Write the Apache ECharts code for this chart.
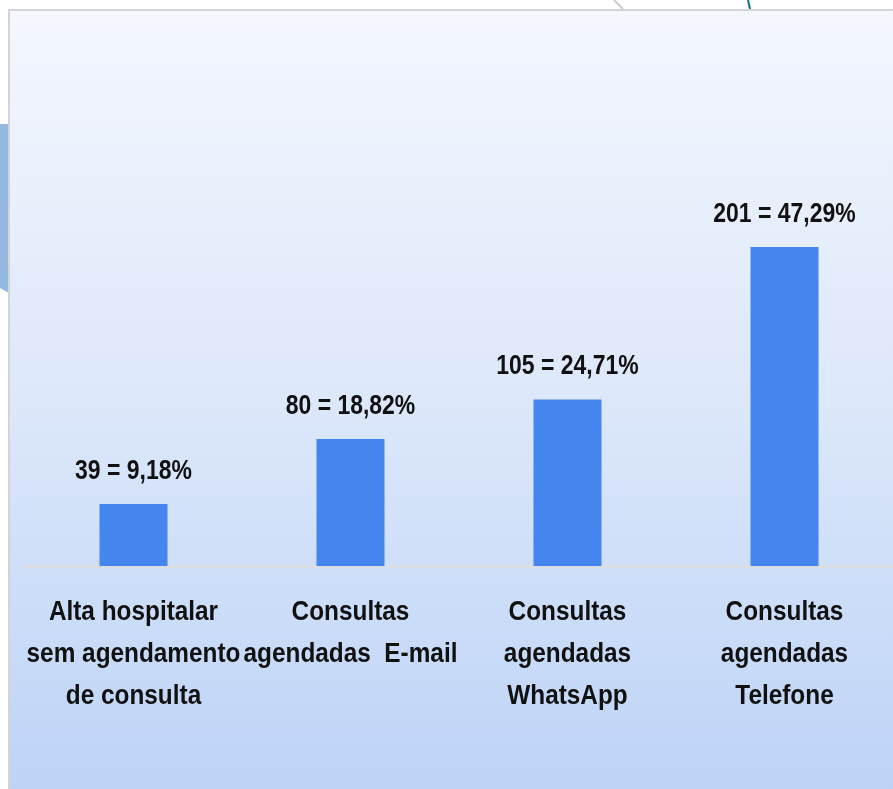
<!DOCTYPE html>
<html>
<head>
<meta charset="utf-8">
<script src="https://cdn.jsdelivr.net/npm/echarts@6/dist/echarts.min.js"></script>
<style>
  html, body { margin: 0; padding: 0; background: #ffffff; }
  #chart { width: 893px; height: 789px; }
</style>
</head>
<body>
<div id="chart"></div>
<script>
// Categories of post-discharge follow-up
const categories = [
  'Alta hospitalar\nsem agendamento\nde consulta',
  'Consultas\nagendadas  E-mail',
  'Consultas\nagendadas\nWhatsApp',
  'Consultas\nagendadas\nTelefone'
];
// Number of patients in each category
const counts = [39, 80, 105, 201];
// Share of the total, as printed (decimal comma)
const percents = ['9,18', '18,82', '24,71', '47,29'];

const FONT = "'Liberation Sans', Arial, sans-serif";

const chart = echarts.init(document.getElementById('chart'), null, { renderer: 'canvas' });

chart.setOption({
  backgroundColor: '#ffffff',
  animation: false,
  graphic: [
    // blue tab peeking out on the left
    {
      type: 'polygon', id: 'tab', z: -20, silent: true,
      shape: { points: [[0, 124], [9, 124], [9, 293], [0, 288]] },
      style: { fill: '#93b9e0' }
    },
    // thin decorative strokes above the panel
    {
      type: 'line', id: 'deco1', z: -20, silent: true,
      shape: { x1: 614, y1: 0, x2: 623, y2: 9 },
      style: { stroke: '#c8ccd2', lineWidth: 2 }
    },
    {
      type: 'line', id: 'deco2', z: -20, silent: true,
      shape: { x1: 748, y1: 0, x2: 750, y2: 9 },
      style: { stroke: '#1f6a86', lineWidth: 2 }
    },
    // gradient panel behind the chart
    {
      type: 'rect', id: 'panel', z: -10, silent: true,
      shape: { x: 9, y: 10, width: 890, height: 790 },
      style: {
        fill: new echarts.graphic.LinearGradient(0, 0, 0, 1, [
          { offset: 0, color: '#f4f7fd' },
          { offset: 0.5, color: '#dce7fa' },
          { offset: 1, color: '#bcd3f6' }
        ]),
        stroke: '#d2d4d8',
        lineWidth: 2
      }
    }
  ],
  grid: {
    left: 25,
    right: -3,
    top: 90,
    bottom: 223,
    containLabel: false
  },
  xAxis: {
    type: 'category',
    data: categories,
    axisLine: { show: true, lineStyle: { color: '#d9dde4', width: 3 } },
    axisTick: { show: false },
    axisLabel: { show: false }
  },
  yAxis: {
    type: 'value',
    min: 0,
    max: 300,
    show: false,
    splitLine: { show: false }
  },
  series: [{
    type: 'bar',
    data: counts,
    barWidth: 68,
    itemStyle: { color: '#4586ee' },
    label: { show: false }
  }]
});

// Narrow bold captions: placed from the axis scales, squeezed horizontally
const texts = [];
counts.forEach((v, i) => {
  const top = chart.convertToPixel({ xAxisIndex: 0, yAxisIndex: 0 }, [i, v]);
  const base = chart.convertToPixel({ xAxisIndex: 0, yAxisIndex: 0 }, [i, 0]);
  texts.push({
    type: 'text', id: 'val' + i, z: 10, silent: true,
    x: top[0], y: top[1] - 19, scaleX: 0.82,
    style: {
      text: v + ' = ' + percents[i] + '%',
      fill: '#111111',
      fontFamily: FONT, fontWeight: 'bold', fontSize: 28,
      align: 'center', verticalAlign: 'bottom'
    }
  });
  texts.push({
    type: 'text', id: 'cat' + i, z: 10, silent: true,
    x: base[0], y: base[1] + 25, scaleX: 0.87,
    style: {
      text: categories[i],
      fill: '#111111',
      fontFamily: FONT, fontWeight: 'bold', fontSize: 28,
      lineHeight: 42,
      align: 'center', verticalAlign: 'top'
    }
  });
});
chart.setOption({ graphic: texts });
</script>
</body>
</html>
